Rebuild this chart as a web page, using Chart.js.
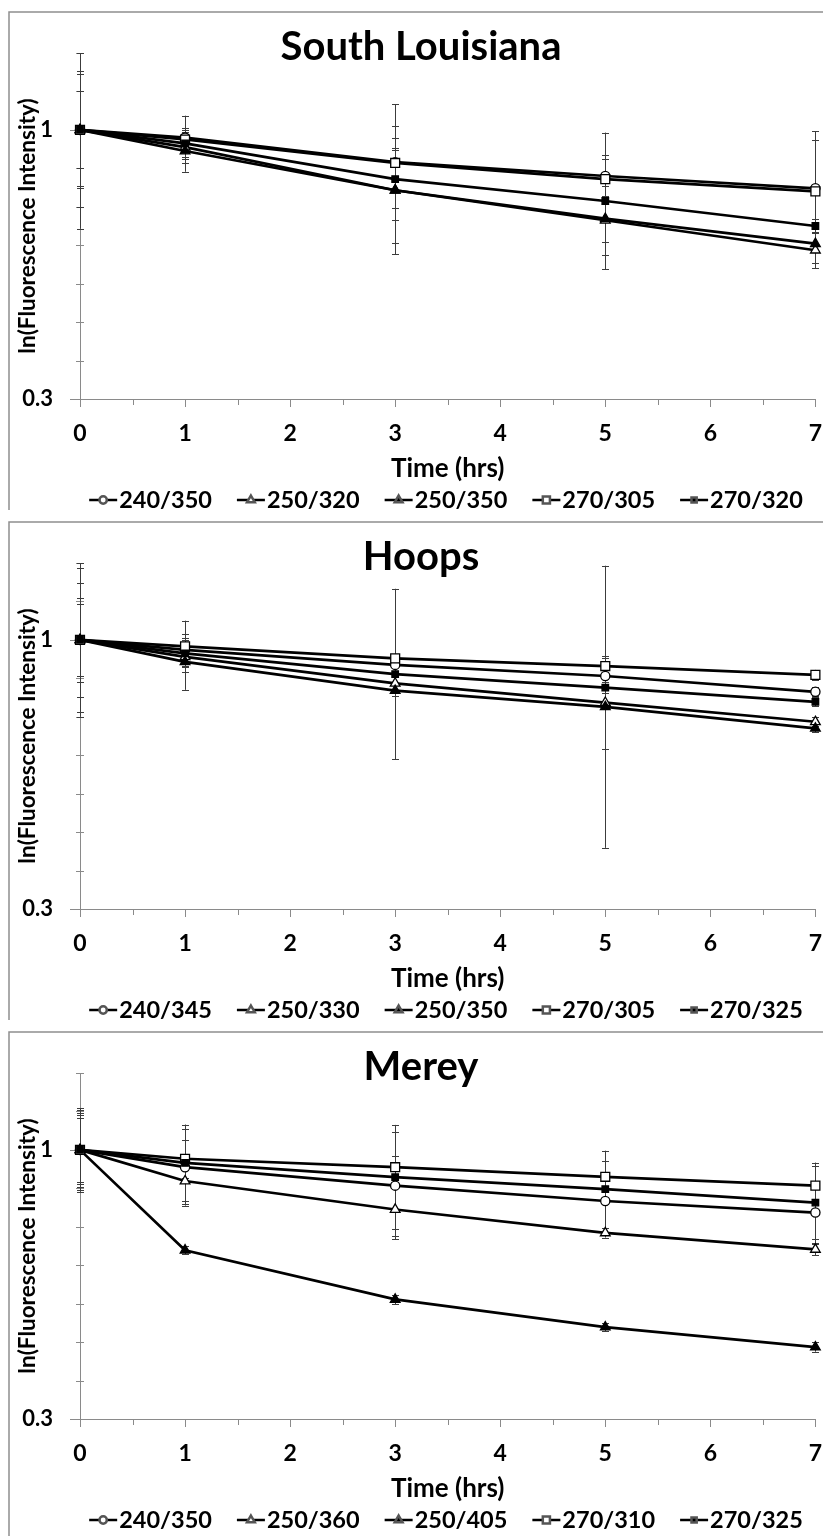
<!DOCTYPE html>
<html><head><meta charset="utf-8">
<script src="https://cdn.jsdelivr.net/npm/chart.js@4.4.1/dist/chart.umd.min.js"></script>
<style>
html,body{margin:0;padding:0;background:#fff;}
body{width:823px;height:1536px;overflow:hidden;position:relative;}
.panel{position:absolute;left:0;width:823px;}
canvas{display:block;}
</style></head><body>
<div class="panel" style="top:0px"><canvas id="c1" width="823" height="510"></canvas></div>
<div class="panel" style="top:510px"><canvas id="c2" width="823" height="510"></canvas></div>
<div class="panel" style="top:1020px"><canvas id="c3" width="823" height="516"></canvas></div>
<script>
// ---------- data ----------
const times = [0, 1, 3, 5, 7];
const xTickLabels = ['0', '1', '2', '3', '4', '5', '6', '7'];
const yTickLabels = ['0.3', '1'];
const xTitle = 'Time (hrs)';
const yTitle = 'ln(Fluorescence Intensity)';

// South Louisiana
const slTitle = 'South Louisiana';
const slLabels = ['240/350', '250/320', '250/350', '270/305', '270/320'];
const sl_240_350 = [1, 0.980, 0.916, 0.880, 0.848];
const sl_250_320 = [1, 0.955, 0.843, 0.765, 0.687];
const sl_250_350 = [1, 0.945, 0.843, 0.769, 0.704];
const sl_270_305 = [1, 0.975, 0.914, 0.872, 0.840];
const sl_270_320 = [1, 0.965, 0.872, 0.815, 0.750];
const slErr_240_350 = [0.257, 0.057, 0.151, 0.055, 0.148];
const slErr_250_320 = [0.152, 0.040, 0.167, 0.090, 0.047];
const slErr_250_350 = [0.145, 0.054, 0.137, 0.060, 0.050];
const slErr_270_305 = [0.100, 0.030, 0.040, 0.052, 0.133];
const slErr_270_320 = [0.200, 0.035, 0.076, 0.178, 0.017];

// Hoops
const hpTitle = 'Hoops';
const hpLabels = ['240/345', '250/330', '250/350', '270/305', '270/325'];
const hp_240_345 = [1, 0.974, 0.935, 0.906, 0.865];
const hp_250_330 = [1, 0.956, 0.887, 0.837, 0.787];
const hp_250_350 = [1, 0.943, 0.868, 0.826, 0.770];
const hp_270_305 = [1, 0.983, 0.952, 0.932, 0.909];
const hp_270_325 = [1, 0.965, 0.911, 0.876, 0.839];
const hpErr_240_345 = [0.094, 0.030, 0.015, 0.015, 0.012];
const hpErr_250_330 = [0.109, 0.025, 0.020, 0.120, 0.012];
const hpErr_250_350 = [0.148, 0.073, 0.015, 0.367, 0.010];
const hpErr_270_305 = [0.187, 0.067, 0.012, 0.020, 0.013];
const hpErr_270_325 = [0.200, 0.035, 0.222, 0.015, 0.012];

// Merey
const mrTitle = 'Merey';
const mrLabels = ['240/350', '250/360', '250/405', '270/310', '270/325'];
const mr_240_350 = [1, 0.955, 0.907, 0.867, 0.837];
const mr_250_360 = [1, 0.919, 0.845, 0.784, 0.741];
const mr_250_405 = [1, 0.739, 0.611, 0.539, 0.487];
const mr_270_310 = [1, 0.977, 0.955, 0.930, 0.907];
const mr_270_325 = [1, 0.966, 0.929, 0.898, 0.863];
const mrErr_240_350 = [0.104, 0.100, 0.140, 0.070, 0.080];
const mrErr_250_360 = [0.084, 0.060, 0.070, 0.012, 0.015];
const mrErr_250_405 = [0.090, 0.010, 0.012, 0.010, 0.012];
const mrErr_270_310 = [0.097, 0.050, 0.028, 0.040, 0.060];
const mrErr_270_325 = [0.109, 0.100, 0.136, 0.100, 0.095];

// ---------- style ----------
const FONT = 'Lato, "Open Sans", "Noto Sans", sans-serif';
const AXIS_COLOR = '#8a8a8a';
const ERR_COLOR = '#3c3c3c';
const markerStyles = [
  { pointStyle: 'circle',   radius: 4.6, fill: '#ffffff' },
  { pointStyle: 'triangle', radius: 5.6, fill: '#ffffff' },
  { pointStyle: 'triangle', radius: 5.6, fill: '#000000' },
  { pointStyle: 'rect',     radius: 6.3, fill: '#ffffff' },
  { pointStyle: 'rect',     radius: 4.6, fill: '#000000' }
];

function sameVal(a, b) { return Math.abs(a - b) < 1e-6; }

const panelPlugin = {
  id: 'panel',
  beforeDraw(chart, args, opts) {
    const ctx = chart.ctx;
    ctx.save();
    ctx.fillStyle = '#ffffff';
    ctx.fillRect(0, 0, chart.width, chart.height);
    ctx.strokeStyle = '#8f8f8f';
    ctx.lineWidth = 1.5;
    ctx.beginPath();
    ctx.moveTo(9, chart.height + 5);
    ctx.lineTo(9, 12);
    ctx.lineTo(chart.width + 5, 12);
    ctx.stroke();
    ctx.fillStyle = '#000';
    ctx.font = 'bold 40px ' + FONT;
    ctx.textAlign = 'center';
    ctx.textBaseline = 'alphabetic';
    ctx.fillText(opts.title, 421, 60);
    ctx.restore();
  },
  beforeDatasetsDraw(chart, args, opts) {
    const ctx = chart.ctx;
    const xs = chart.scales.x, ys = chart.scales.y;
    const area = chart.chartArea;
    ctx.save();
    ctx.strokeStyle = AXIS_COLOR;
    ctx.lineWidth = 1;
    ys.ticks.forEach(t => {
      const py = Math.round(ys.getPixelForValue(t.value)) + 0.5;
      const major = yTickLabels.some(l => sameVal(Number(l), t.value));
      ctx.beginPath();
      if (major) { ctx.moveTo(area.left - 10, py); ctx.lineTo(area.left, py); }
      else { ctx.moveTo(area.left - 4, py); ctx.lineTo(area.left + 4, py); }
      ctx.stroke();
    });
    xs.ticks.forEach(t => {
      const px = Math.round(xs.getPixelForValue(t.value)) + 0.5;
      const major = sameVal(t.value, Math.round(t.value));
      ctx.beginPath();
      ctx.moveTo(px, area.bottom);
      ctx.lineTo(px, area.bottom + (major ? 8 : 6));
      ctx.stroke();
    });
    ctx.restore();
    ctx.save();
    ctx.beginPath();
    ctx.rect(0, area.top, chart.width, area.bottom - area.top);
    ctx.clip();
    ctx.strokeStyle = ERR_COLOR;
    ctx.lineWidth = 1;
    opts.errors.forEach((errs, di) => {
      const vals = chart.data.datasets[di].data;
      errs.forEach((e, j) => {
        if (!e) return;
        const px = Math.round(xs.getPixelForValue(vals[j].x)) + 0.5;
        const top = ys.getPixelForValue(vals[j].y + e);
        const bot = ys.getPixelForValue(vals[j].y - e);
        ctx.beginPath();
        ctx.moveTo(px, top); ctx.lineTo(px, bot);
        ctx.moveTo(px - 3.5, Math.round(top) + 0.5); ctx.lineTo(px + 3.5, Math.round(top) + 0.5);
        ctx.moveTo(px - 3.5, Math.round(bot) + 0.5); ctx.lineTo(px + 3.5, Math.round(bot) + 0.5);
        ctx.stroke();
      });
    });
    ctx.restore();
  },
  afterDraw(chart, args, opts) {
    const ctx = chart.ctx;
    ctx.save();
    ctx.font = 'bold 23.5px ' + FONT;
    ctx.textBaseline = 'middle';
    ctx.textAlign = 'left';
    const symW = 28, gapText = 2, gapItem = 25;
    const ds = chart.data.datasets;
    const widths = ds.map(d => symW + gapText + ctx.measureText(d.label).width);
    const total = widths.reduce((a, b) => a + b, 0) + gapItem * (ds.length - 1);
    let x = 446 - total / 2;
    const y = 500;
    ds.forEach((d, i) => {
      ctx.strokeStyle = '#000';
      ctx.lineWidth = 2.5;
      ctx.beginPath();
      ctx.moveTo(x, y); ctx.lineTo(x + symW, y);
      ctx.stroke();
      ctx.fillStyle = d.pointBackgroundColor;
      ctx.strokeStyle = '#555';
      Chart.helpers.drawPoint(ctx, {
        pointStyle: d.pointStyle, radius: d.pointRadius * 0.8, rotation: 0, borderWidth: 1
      }, x + symW / 2, y);
      ctx.fillStyle = '#000';
      ctx.fillText(d.label, x + symW + gapText, y);
      x += widths[i] + gapItem;
    });
    ctx.restore();
  }
};

function makeChart(id, title, labels, seriesList, errList) {
  const canvas = document.getElementById(id);
  const datasets = seriesList.map((vals, i) => ({
    label: labels[i],
    data: times.map((t, j) => ({ x: t, y: vals[j] })),
    borderColor: '#000',
    borderWidth: 2.7,
    tension: 0,
    fill: false,
    pointStyle: markerStyles[i].pointStyle,
    pointRadius: markerStyles[i].radius,
    pointBackgroundColor: markerStyles[i].fill,
    pointBorderColor: '#000',
    pointBorderWidth: 1.3,
    clip: false,
    order: seriesList.length - i
  }));
  const tickFont = { family: FONT, weight: 'bold', size: 23 };
  return new Chart(canvas, {
    type: 'line',
    data: { datasets },
    options: {
      responsive: false,
      maintainAspectRatio: false,
      animation: false,
      events: [],
      devicePixelRatio: 1,
      layout: { padding: { left: 0, right: 7, top: 53, bottom: canvas.height - 484 } },
      plugins: {
        legend: { display: false },
        tooltip: { enabled: false },
        title: { display: false },
        panel: { title: title, errors: errList }
      },
      scales: {
        x: {
          type: 'linear', min: 0, max: 7,
          ticks: {
            stepSize: 0.5, autoSkip: false, maxRotation: 0, minRotation: 0,
            padding: 21, color: '#000', font: tickFont,
            callback: v => sameVal(v, Math.round(v)) ? xTickLabels[Math.round(v)] : ''
          },
          grid: { display: true, drawOnChartArea: false, drawTicks: false },
          border: { display: true, color: AXIS_COLOR, width: 1 },
          title: {
            display: true, text: xTitle, color: '#000',
            font: { family: FONT, weight: 'bold', size: 26 },
            padding: { top: 0, bottom: 0 }
          },
          afterFit: s => { s.height = 85; s.paddingRight = 7; s.paddingLeft = 7; }
        },
        y: {
          type: 'linear', min: 0.3, max: 1.2,
          ticks: {
            stepSize: 0.1, autoSkip: false, padding: 27, color: '#000',
            font: { family: FONT, weight: 'bold', size: 22 },
            callback: v => {
              const l = yTickLabels.find(t => sameVal(Number(t), v));
              return l === undefined ? '' : l;
            }
          },
          grid: { display: true, drawOnChartArea: false, drawTicks: false },
          border: { display: true, color: AXIS_COLOR, width: 1 },
          title: {
            display: true, text: yTitle, color: '#000',
            font: { family: FONT, weight: 'bold', size: 22.5 },
            padding: { top: 14, bottom: 0 }
          },
          afterFit: s => { s.width = 80; s.paddingTop = 0; s.paddingBottom = 0; }
        }
      }
    },
    plugins: [panelPlugin]
  });
}

makeChart('c1', slTitle, slLabels,
  [sl_240_350, sl_250_320, sl_250_350, sl_270_305, sl_270_320],
  [slErr_240_350, slErr_250_320, slErr_250_350, slErr_270_305, slErr_270_320]);
makeChart('c2', hpTitle, hpLabels,
  [hp_240_345, hp_250_330, hp_250_350, hp_270_305, hp_270_325],
  [hpErr_240_345, hpErr_250_330, hpErr_250_350, hpErr_270_305, hpErr_270_325]);
makeChart('c3', mrTitle, mrLabels,
  [mr_240_350, mr_250_360, mr_250_405, mr_270_310, mr_270_325],
  [mrErr_240_350, mrErr_250_360, mrErr_250_405, mrErr_270_310, mrErr_270_325]);
</script>
</body></html>
